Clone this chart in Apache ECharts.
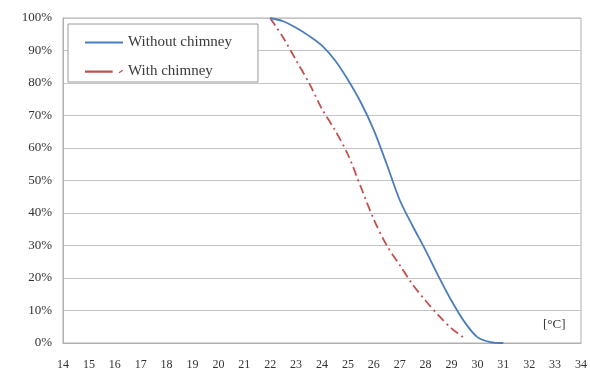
<!DOCTYPE html>
<html>
<head>
<meta charset="utf-8">
<script src="https://cdn.jsdelivr.net/npm/echarts@6/dist/echarts.min.js"></script>
<style>html,body{margin:0;padding:0;background:#fff}#c{width:590px;height:378px}</style>
</head>
<body>
<div id="c"></div>
<script>
var xTicks = [14,15,16,17,18,19,20,21,22,23,24,25,26,27,28,29,30,31,32,33,34];
var withoutX = [22,22.5,23,23.5,24,24.5,25,25.5,26,26.5,27,27.5,28,28.5,29,29.5,30,30.5,31];
var withoutY = [100,99,97,94.5,91.5,87,81,74,65.5,55,44,36,28.5,20.5,13,6.5,1.8,0.3,0];
var withX = [22,22.5,23,23.5,24,24.5,25,25.5,26,26.5,27,27.5,28,28.5,29,29.5];
var withY = [100,94,87,80,72,65.5,58,48,38,30,24,18,13,8.5,4.5,1.5];
var seriesNames = ['Without chimney','With chimney'];
var unitLabel = '[°C]';

function pairs(xs, ys){ return xs.map(function(x,i){ return [x, ys[i]]; }); }

var chart = echarts.init(document.getElementById('c'), null, {renderer:'canvas'});
var font = 'Liberation Serif, Times New Roman, serif';
chart.setOption({
  animation:false,
  backgroundColor:'#fff',
  grid:{left:63,right:7,top:18,bottom:35,show:true,borderColor:'#b0b0b0',borderWidth:1},
  legend:{
    left:68, top:24, orient:'vertical',
    padding:[11,26,3,17], itemGap:14, itemWidth:38, itemHeight:14,
    borderColor:'#9a9a9a', borderWidth:1, backgroundColor:'#fff',
    textStyle:{fontFamily:font,fontSize:15,color:'#3a3a3a'},
    data:[{name:seriesNames[0],icon:'path://M0,6h38v2h-38z'},{name:seriesNames[1],icon:'path://M0,6h23v2h-23zM28,7.5l3,-2l0.6,0.8l-3,2z'}]
  },
  xAxis:{
    type:'value', min:14, max:34, interval:1,
    axisLine:{show:true,lineStyle:{color:'#b0b0b0'}},
    axisTick:{show:false},
    splitLine:{show:false},
    axisLabel:{margin:16,fontFamily:font,fontSize:12,color:'#333',
      formatter:function(v){ return xTicks.indexOf(v)>=0 ? String(v) : ''; }}
  },
  yAxis:{
    type:'value', min:0, max:100, interval:10,
    axisLine:{show:true,lineStyle:{color:'#b0b0b0'}},
    axisTick:{show:false},
    splitLine:{show:true,lineStyle:{color:'#c4c4c4',width:1.2}},
    axisLabel:{margin:11,fontFamily:font,fontSize:13,color:'#333',formatter:'{value}%'}
  },
  graphic:[{type:'text',left:543,top:318,style:{text:unitLabel,font:'13px '+font,fill:'#333'}}],
  series:[
    {name:seriesNames[0],type:'line',data:pairs(withoutX,withoutY),showSymbol:false,smooth:0.3,
     color:'#4a7ebb',lineStyle:{color:'#4a7ebb',width:1.8},z:3},
    {name:seriesNames[1],type:'line',data:pairs(withX,withY),showSymbol:false,smooth:0.3,
     color:'#c0504d',lineStyle:{color:'#c0504d',width:1.8,type:[9,4,2,4]},z:2}
  ]
});
</script>
</body>
</html>
